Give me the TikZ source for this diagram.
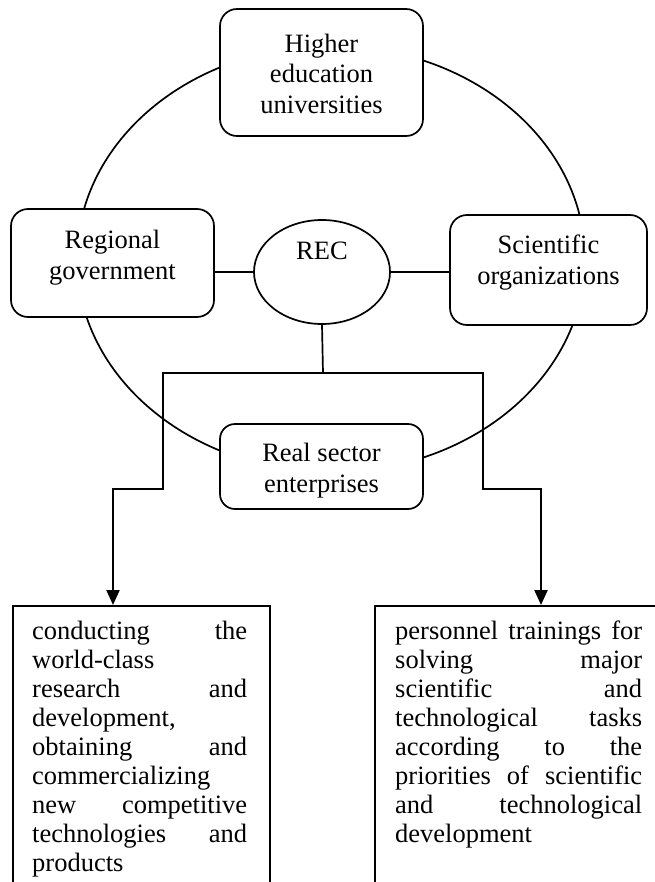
\documentclass[tikz,border=0pt]{standalone}
\usepackage{fontspec}
\setmainfont{Liberation Serif}
\usetikzlibrary{shapes.geometric,arrows.meta}
\newcommand{\jline}[1]{\leavevmode\hbox to \hsize{#1}}
\begin{document}
\begin{tikzpicture}[x=1bp,y=-1bp,
  box/.style={draw, line width=1.7bp, rounded corners=17bp, fill=white, inner sep=0pt},
  plainbox/.style={draw, line width=1.7bp, fill=white, inner sep=0pt},
  txt/.style={align=center, inner sep=0pt, font=\fontsize{26.5bp}{30.5bp}\selectfont},
  para/.style={align=left, inner sep=0pt, font=\fontsize{26.5bp}{29bp}\selectfont},
  thin/.style={line width=1.7bp},
  arr/.style={line width=2.2bp, line join=miter, -{Triangle[width=13bp,length=15bp]}}]
\clip (0,0) rectangle (655,882);
\fill[white] (0,0) rectangle (655,882);
% outer ring
\draw[thin] (331,259) ellipse [x radius=254bp, y radius=213bp];
% boxes
\node[box, minimum width=203bp, minimum height=127bp] (hei) at (321.5,72.5) {};
\node[box, minimum width=203bp, minimum height=108bp] (reg) at (112.5,263) {};
\node[box, minimum width=197bp, minimum height=110bp] (sci) at (548.5,270) {};
\node[box, rounded corners=15bp, minimum width=203bp, minimum height=85bp] (rse) at (321.5,466.5) {};
\node[plainbox, ellipse, minimum width=136bp, minimum height=104bp] (rec) at (322,272) {};
\node[plainbox, anchor=north west, minimum width=257bp, minimum height=320bp] (lbox) at (12,605) {};
\node[plainbox, anchor=north west, minimum width=320bp, minimum height=320bp] (rbox) at (374,605) {};
% texts (anchor base = baseline of last line)
\node[txt, anchor=base] (heit) at (321.5,113) {Higher\\education\\universities};
\node[txt, anchor=base] (regt) at (112.5,279) {Regional\\government};
\node[txt, anchor=base] (scit) at (548.5,284) {Scientific\\organizations};
\node[txt, anchor=base] (rset) at (321.5,492) {Real sector\\enterprises};
\node[txt, anchor=base] (rect) at (322,259) {REC};
\node[para, text width=215bp, anchor=north west] (lt) at (32,620.5) {%
\jline{conducting\hfill the}\\
world-class\\
\jline{research\hfill and}\\
development,\\
\jline{obtaining\hfill and}\\
commercializing\\
\jline{new\hfill competitive}\\
\jline{technologies\hfill and}\\
products};
\node[para, text width=247bp, anchor=north west] (rt) at (395,620.5) {%
\jline{personnel\hfill trainings\hfill for}\\
\jline{solving\hfill major}\\
\jline{scientific\hfill and}\\
\jline{technological\hfill tasks}\\
\jline{according\hfill to\hfill the}\\
\jline{priorities\hfill of\hfill scientific}\\
\jline{and\hfill technological}\\
development};
% connectors
\coordinate (jm) at (323,373);
\coordinate (jl) at (163,373);
\coordinate (jr) at (483,373);
\coordinate (bl) at (113,489);
\coordinate (br) at (541,489);
\draw[thin] (reg.east |- rec.west) -- (rec.west);
\draw[thin] (rec.east) -- (sci.west |- rec.east);
\draw[thin] (rec.south) -- (jm);
\draw[arr] (jm) -- (jl) -- (jl |- bl) -- (bl) -- (bl |- lbox.north);
\draw[arr] (jm) -- (jr) -- (jr |- br) -- (br) -- (br |- rbox.north);
\end{tikzpicture}
\end{document}
